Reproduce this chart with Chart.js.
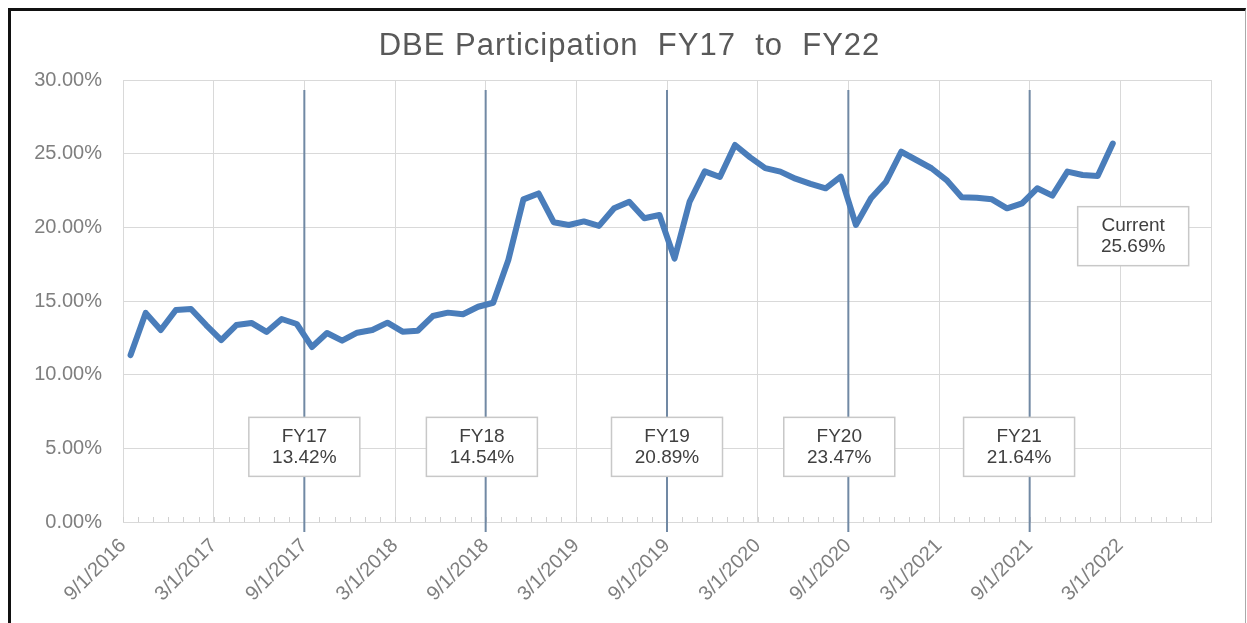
<!DOCTYPE html>
<html>
<head>
<meta charset="utf-8">
<title>DBE Participation</title>
<script src="https://cdn.jsdelivr.net/npm/chart.js@4.4.1/dist/chart.umd.min.js"></script>
<style>
  body { margin: 0; background: #fff; }
  #wrap { position: relative; width: 1247px; height: 623px; overflow: hidden; }
  #frame { position: absolute; left: 8px; top: 8px; width: 1234px; height: 640px;
           border-left: 3px solid #111; border-top: 3px solid #111; border-right: 1px solid #aaa;
           pointer-events: none; }
  canvas { position: absolute; left: 0; top: 0; }
</style>
</head>
<body>
<div id="wrap">
  <canvas id="trend_chart" width="1247" height="623"></canvas>
  <div id="frame"></div>
</div>
<script>
// axis labels every six months (month 0 = Sep 2016)
const tickLabels = ['9/1/2016', '3/1/2017', '9/1/2017', '3/1/2018', '9/1/2018', '3/1/2019',
                    '9/1/2019', '3/1/2020', '9/1/2020', '3/1/2021', '9/1/2021', '3/1/2022']

// monthly DBE participation %, Sep 2016 .. Feb 2022
const participation = [
    11.33, 14.19, 13.03, 14.39, 14.46, 13.37, 12.35, 13.37, 13.51, 12.90, 13.78, 13.44,
    11.88, 12.83, 12.31, 12.85, 13.03, 13.53, 12.92, 12.98, 13.98, 14.21, 14.10, 14.61,
    14.88, 17.78, 21.90, 22.30, 20.35, 20.16, 20.40, 20.10, 21.30, 21.74, 20.62, 20.84,
    17.88, 21.75, 23.80, 23.42, 25.59, 24.75, 24.02, 23.78, 23.30, 22.95, 22.65, 23.44,
    20.16, 21.97, 23.10, 25.13, 24.57, 24.01, 23.21, 22.04, 22.01, 21.90, 21.29, 21.63,
    22.65, 22.15, 23.78, 23.55, 23.48, 25.69
]

// fiscal year summaries
const fyNames = ['FY17', 'FY18', 'FY19', 'FY20', 'FY21']
const fyAverages = [13.42, 14.54, 20.89, 23.47, 21.64]
const fyEnds = ['9/1/2017', '9/1/2018', '9/1/2019', '9/1/2020', '9/1/2021']

const fmtPct = function (v) { return v.toFixed(2) + '%' }
const fontFamily = '"Liberation Sans", Arial, sans-serif'

function drawBox(ctx, cx, cy, lines) {
    var w = 111, h = 59
    ctx.fillStyle = '#ffffff'
    ctx.fillRect(cx - w / 2, cy - h / 2, w, h)
    ctx.strokeStyle = '#c8c8c8'
    ctx.lineWidth = 1.5
    ctx.strokeRect(cx - w / 2, cy - h / 2, w, h)
    ctx.fillStyle = '#404040'
    ctx.font = '19px ' + fontFamily
    ctx.textAlign = 'center'
    ctx.textBaseline = 'middle'
    ctx.fillText(lines[0], cx, cy - 10)
    ctx.fillText(lines[1], cx, cy + 11)
}

const fyMarkers = {
    id: 'fyMarkers',
    beforeDatasetsDraw(chart) {
        const ctx = chart.ctx, area = chart.chartArea, x = chart.scales.x
        ctx.save()
        // small monthly ticks on the base line
        ctx.strokeStyle = '#d0d0d0'
        ctx.lineWidth = 1
        for (var m = x.min; m <= x.max; m++) {
            var px = Math.round(x.getPixelForValue(m)) + 0.5
            ctx.beginPath()
            ctx.moveTo(px, area.bottom - 5)
            ctx.lineTo(px, area.bottom)
            ctx.stroke()
        }
        // fiscal year boundaries
        ctx.strokeStyle = '#7189a4'
        ctx.lineWidth = 2
        fyEnds.forEach(function (d) {
            var px = x.getPixelForValue(tickLabels.indexOf(d) * 6)
            ctx.beginPath()
            ctx.moveTo(px, area.top + 10)
            ctx.lineTo(px, area.bottom + 10)
            ctx.stroke()
        })
        ctx.restore()
    },
    afterDatasetsDraw(chart, args, opts) {
        const ctx = chart.ctx, x = chart.scales.x, y = chart.scales.y
        ctx.save()
        fyNames.forEach(function (name, i) {
            var m = tickLabels.indexOf(fyEnds[i]) * 6 + opts.shift[i]
            drawBox(ctx, x.getPixelForValue(m), y.getPixelForValue(opts.boxY), [name, fmtPct(fyAverages[i])])
        })
        var last = participation[participation.length - 1]
        drawBox(ctx, x.getPixelForValue(opts.current.x), y.getPixelForValue(opts.current.y), ['Current', fmtPct(last)])
        ctx.restore()
    }
}

const chartTitle = {
    id: 'chartTitle',
    afterDraw(chart, args, opts) {
        const ctx = chart.ctx
        ctx.save()
        ctx.font = '31px ' + fontFamily
        ctx.letterSpacing = '1px'
        ctx.fillStyle = '#595959'
        ctx.textAlign = 'center'
        ctx.textBaseline = 'alphabetic'
        ctx.fillText(opts.text, chart.width / 2 + 6, 55)
        ctx.restore()
    }
}

var ctx = document.getElementById('trend_chart')

var ds = [{
    label: 'DBE Participation',
    data: participation.map(function (v, i) { return {x: i + 0.5, y: v} }),
    borderColor: '#4a7dba',
    backgroundColor: '#4a7dba',
    borderWidth: 6,
    pointRadius: 0,
    tension: 0,
    borderJoinStyle: 'round',
    borderCapStyle: 'round'
}]

const config = {
    type: 'line',
    data: {datasets: ds},
    plugins: [fyMarkers, chartTitle],
    options: {
        responsive: false,
        animation: false,
        layout: {padding: {top: 80, right: 36, left: 0, bottom: 0}},
        plugins: {
            legend: {display: false},
            tooltip: {enabled: false},
            chartTitle: {text: 'DBE Participation  FY17  to  FY22'},
            fyMarkers: {boxY: 5.1, shift: [0, -0.25, 0, -0.6, -0.7], current: {x: 66.85, y: 19.4}}
        },
        scales: {
            x: {
                type: 'linear',
                min: 0,
                max: 72,
                grid: {color: '#d9d9d9', drawTicks: false},
                border: {color: '#d9d9d9'},
                ticks: {
                    stepSize: 6,
                    autoSkip: false,
                    minRotation: 45,
                    maxRotation: 45,
                    padding: 12,
                    color: '#7f7f7f',
                    font: {size: 20, family: fontFamily},
                    callback: function (v) { return tickLabels[v / 6] || '' }
                },
                afterFit: function (s) { s.height = 101 }
            },
            y: {
                min: 0,
                max: 30,
                grid: {color: '#d9d9d9', drawTicks: false},
                border: {color: '#d9d9d9'},
                ticks: {
                    stepSize: 5,
                    padding: 21,
                    color: '#7f7f7f',
                    font: {size: 20, family: fontFamily},
                    callback: fmtPct
                },
                afterFit: function (s) { s.width = 123 }
            }
        }
    }
}

var myChart = new Chart(ctx, config)
</script>
</body>
</html>
